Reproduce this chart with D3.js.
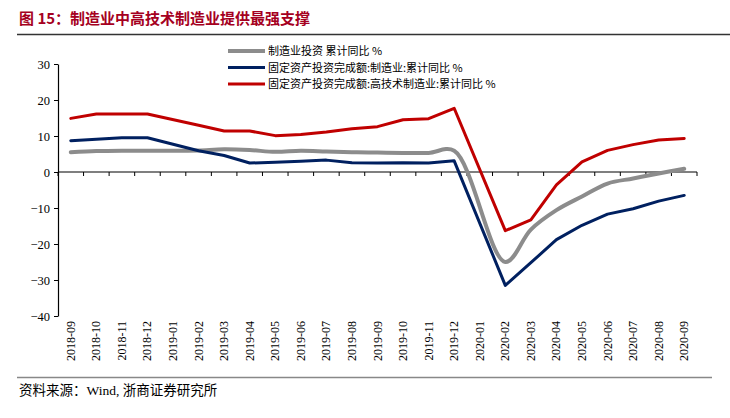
<!DOCTYPE html>
<html>
<head>
<meta charset="utf-8">
<script src="https://cdn.jsdelivr.net/npm/d3@7"></script>
<style>
  body { margin: 0; background: #fff; }
  svg { display: block; }
</style>
</head>
<body>
<div id="chart"></div>
<script>
// Months on the x axis
const months = ["2018-09","2018-10","2018-11","2018-12","2019-01","2019-02","2019-03","2019-04",
  "2019-05","2019-06","2019-07","2019-08","2019-09","2019-10","2019-11","2019-12",
  "2020-01","2020-02","2020-03","2020-04","2020-05","2020-06","2020-07","2020-08","2020-09"];

// Series values (null = no data, line just connects the neighbours)
const mfgInvest = [5.5, 5.8, 5.9, 5.9, 5.9, 6.0, 6.3, 6.1, 5.6, 5.9, 5.7, 5.5, 5.4, 5.3, 5.3, 5.9,
  null, -25.0, -16.0, -10.6, -6.8, -3.2, -1.8, -0.4, 0.9];
const faiMfg = [8.7, 9.1, 9.5, 9.5, null, 5.9, 4.6, 2.5, 2.7, 3.0, 3.3, 2.6, 2.5, 2.6, 2.5, 3.1,
  null, -31.5, -25.2, -18.8, -14.8, -11.7, -10.2, -8.1, -6.5];
const faiHighTech = [14.9, 16.1, 16.1, 16.1, null, 13.0, 11.4, 11.4, 10.1, 10.4, 11.1, 12.0, 12.6, 14.5, 14.8, 17.7,
  null, -16.3, -13.3, -3.6, 2.8, 6.0, 7.6, 8.9, 9.3];

const yTicks = [30, 20, 10, 0, -10, -20, -30, -40];

const series = [
  { name: "制造业投资 累计同比 %", values: mfgInvest, color: "#8c8c8c", width: 4, smooth: true },
  { name: "固定资产投资完成额:制造业:累计同比 %", values: faiMfg, color: "#002060", width: 3, smooth: false },
  { name: "固定资产投资完成额:高技术制造业:累计同比 %", values: faiHighTech, color: "#c00000", width: 3, smooth: false }
];

const width = 730, height = 418;
const margin = { top: 64, left: 58, right: 33, bottom: 102 };

const svg = d3.select("#chart").append("svg")
  .attr("width", width)
  .attr("height", height);

// Title and rules
svg.append("text")
  .attr("x", 19).attr("y", 24)
  .attr("font-family", "Noto Sans CJK SC")
  .attr("font-weight", "bold")
  .attr("font-size", "15px")
  .attr("fill", "#a50021")
  .text("图 15：制造业中高技术制造业提供最强支撑");

svg.append("line")
  .attr("x1", 17).attr("x2", 730).attr("y1", 34.5).attr("y2", 34.5)
  .attr("stroke", "#333").attr("stroke-width", 1.5);

svg.append("line")
  .attr("x1", 17).attr("x2", 712).attr("y1", 377.5).attr("y2", 377.5)
  .attr("stroke", "#888").attr("stroke-width", 1.5);

svg.append("text")
  .attr("x", 19).attr("y", 395)
  .attr("font-family", "Liberation Serif, Noto Sans CJK SC")
  .attr("font-size", "13.5px")
  .attr("fill", "#000")
  .text("资料来源：Wind, 浙商证券研究所");

// Scales
const x = d3.scaleBand()
  .domain(months)
  .range([margin.left, width - margin.right]);

const y = d3.scaleLinear()
  .domain([-40, 30])
  .range([height - margin.bottom, margin.top]);

const cx = d => x(d) + x.bandwidth() / 2;

// Y axis
const yAxis = svg.append("g")
  .attr("transform", `translate(${margin.left},0)`)
  .call(d3.axisLeft(y).tickValues(yTicks).tickSize(4).tickSizeOuter(0).tickFormat(d3.format("d")));
yAxis.selectAll("text")
  .attr("font-family", "Liberation Serif")
  .attr("font-size", "12.5px")
  .attr("fill", "#000")
  .attr("dx", "-1");
yAxis.select(".domain").attr("stroke", "#000").attr("stroke-width", 1.2);

// X axis on the zero line, ticks at band boundaries
const xAxis = svg.append("g")
  .attr("transform", `translate(0,${y(0)})`);
xAxis.append("line")
  .attr("x1", margin.left).attr("x2", width - margin.right)
  .attr("stroke", "#000").attr("stroke-width", 1.2);
xAxis.selectAll(".tk")
  .data(months.concat(["end"]))
  .join("line")
  .attr("class", "tk")
  .attr("x1", (d, i) => i < months.length ? x(d) : x(months[months.length - 1]) + x.bandwidth())
  .attr("x2", (d, i) => i < months.length ? x(d) : x(months[months.length - 1]) + x.bandwidth())
  .attr("y1", 0).attr("y2", 4)
  .attr("stroke", "#000");

// X labels rotated, at the bottom of the plot
svg.append("g")
  .selectAll("text")
  .data(months)
  .join("text")
  .attr("transform", d => `translate(${cx(d) + 4},${height - margin.bottom + 5}) rotate(-90)`)
  .attr("text-anchor", "end")
  .attr("font-family", "Liberation Serif")
  .attr("font-size", "12px")
  .attr("fill", "#000")
  .text(d => d);

// Lines
series.forEach(s => {
  const pts = months.map((m, i) => ({ m, v: s.values[i] })).filter(p => p.v !== null);
  const line = d3.line()
    .x(p => cx(p.m))
    .y(p => y(p.v))
    .curve(s.smooth ? d3.curveCatmullRom.alpha(0.5) : d3.curveLinear);
  svg.append("path")
    .datum(pts)
    .attr("fill", "none")
    .attr("stroke", s.color)
    .attr("stroke-width", s.width)
    .attr("stroke-linejoin", "round")
    .attr("stroke-linecap", "round")
    .attr("d", line);
});

// Legend
const legend = svg.append("g").attr("transform", "translate(228,51)");
series.forEach((s, i) => {
  const g = legend.append("g").attr("transform", `translate(0,${i * 16.5})`);
  g.append("line")
    .attr("x1", 0).attr("x2", 37)
    .attr("stroke", s.color)
    .attr("stroke-width", s.width);
  g.append("text")
    .attr("x", 40).attr("y", 4)
    .attr("font-family", "Noto Sans CJK SC")
    .attr("font-size", "11px")
    .attr("fill", "#000")
    .text(s.name);
});
</script>
</body>
</html>
